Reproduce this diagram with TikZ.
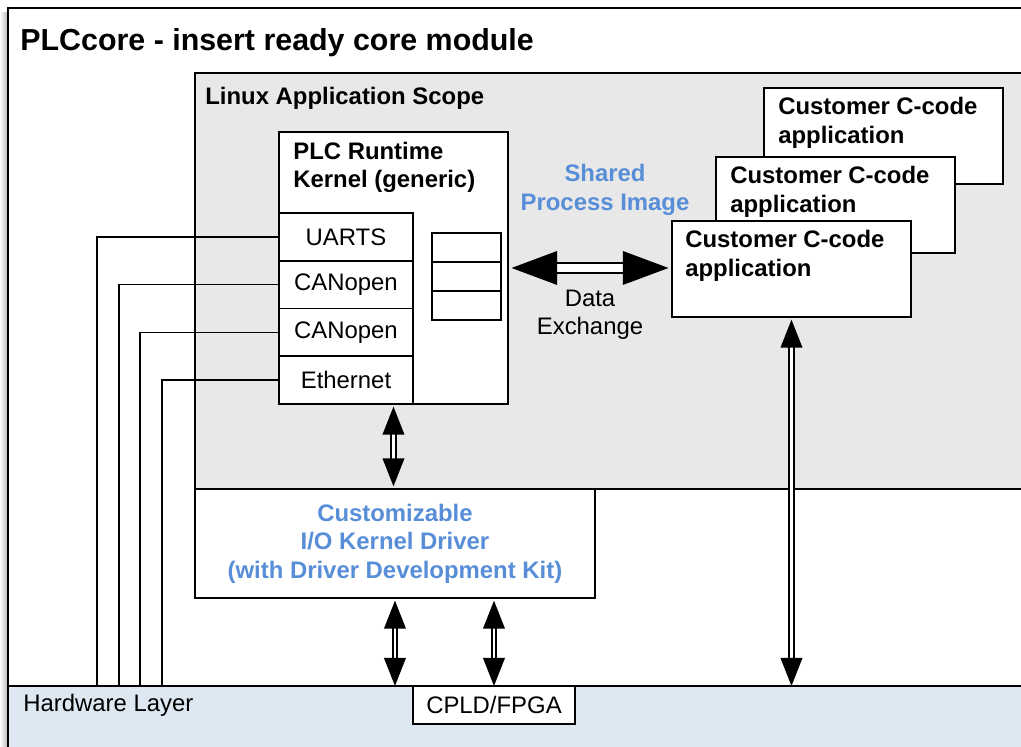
\documentclass[tikz,border=0pt]{standalone}
\usepackage{fontspec}
\setmainfont{Liberation Sans}
\usepackage{tikz}
\usetikzlibrary{shapes,arrows.meta}
\usetikzlibrary{positioning}
\definecolor{scopegray}{RGB}{232,232,232}
\definecolor{hwblue}{RGB}{222,232,242}
\definecolor{textblue}{RGB}{88,142,216}
\newcommand{\bodyfont}{\fontsize{13.6}{16.2}\selectfont}
\newcommand{\titlefont}{\fontsize{17.3}{20}\selectfont\bfseries}
\tikzstyle{box} = [rectangle, draw=black, line width=1.1pt, fill=white,
    inner sep=0pt, outer sep=0pt, font=\bodyfont]
\tikzstyle{port} = [box, minimum width=2.68cm, minimum height=0.955cm]
\tikzstyle{cell} = [box, minimum width=1.38cm, minimum height=0.58cm]
\tikzstyle{app} = [box, minimum width=4.78cm, minimum height=1.92cm, anchor=north west]
\tikzstyle{boldtext} = [inner sep=0pt, font=\bodyfont\bfseries, align=left, anchor=north west]
\tikzstyle{wire} = [line width=0.8pt]
\tikzstyle{arrow} = [line width=1.1pt, double=white, double distance=1.6pt,
    {Triangle[length=16pt,width=12.3pt]}-{Triangle[length=16pt,width=12.3pt]}]
\tikzstyle{bigarrow} = [line width=1.4pt, double=white, double distance=4.4pt,
    {Triangle[length=26pt,width=19pt]}-{Triangle[length=26pt,width=19pt]}]

\begin{document}
\begin{tikzpicture}[x=0.02cm, y=-0.02cm]
\useasboundingbox (0,0) rectangle (1021,747);
\clip (0,0) rectangle (1021,747);

% module frame
\shade [left color=white, right color=gray!60] (0,12) rectangle (8,760);
\draw [fill=white, line width=1.1pt] (8,8) rectangle (1040,760);
\node (title) [anchor=base west, inner sep=0pt, font=\titlefont] at (20,51)
    {PLCcore - insert ready core module};

% layers
\node (hw) [box, fill=hwblue, anchor=north west, minimum width=20.8cm, minimum height=1.6cm] at (8,686) {};
\node (hw-label) [anchor=base west, inner sep=0pt, font=\bodyfont] at (23,711) {Hardware Layer};
\node (scope) [box, fill=scopegray, anchor=north west, minimum width=17cm, minimum height=8.32cm] at (195,73) {};
\node (scope-label) [boldtext, anchor=base west] at (205,104) {Linux Application Scope};

\node (driver) [box, anchor=north west, minimum width=8cm, minimum height=2.18cm,
    font=\bodyfont\bfseries, text=textblue, align=center] at (195,489) {
    Customizable \\
    I/O Kernel Driver \\
    (with Driver Development Kit)
};

% runtime kernel
\node (kernel) [box, anchor=north west, minimum width=4.58cm, minimum height=5.44cm] at (279,132) {};
\node (kernel-label) [boldtext] at (293,141.5) {PLC Runtime \\ Kernel (generic)};
\node (uarts) [port, anchor=north west] at (279,213) {UARTS};
\node (canopen-a) [port, below=0pt of uarts] {CANopen};
\node (canopen-b) [port, below=0pt of canopen-a] {CANopen};
\node (ethernet) [port, below=0pt of canopen-b] {Ethernet};

\node (image-a) [cell, anchor=north west] at (432,233) {};
\node (image-b) [cell, below=0pt of image-a] {};
\node (image-c) [cell, below=0pt of image-b] {};

\node (shared) [font=\bodyfont\bfseries, text=textblue, align=center] at (605,190) {
    Shared \\
    Process Image
};

% customer applications
\node (app-c) [app] at (764,88) {};
\node (app-c-label) [boldtext] at (778,97) {Customer C-code \\ application};
\node (app-b) [app] at (716,157) {};
\node (app-b-label) [boldtext] at (730,166) {Customer C-code \\ application};
\node (app-a) [app] at (672,221) {};
\node (app-a-label) [boldtext] at (685,230) {Customer C-code \\ application};

\node (cpld) [box, anchor=north west, minimum width=3.24cm, minimum height=0.76cm] at (413,686) {CPLD/FPGA};

\draw [bigarrow, shorten <=2pt, shorten >=2pt] (kernel.east) -- (kernel.east -| app-a.west);
\node (data-label) [font=\bodyfont, align=center] at (590,315) {Data \\ Exchange};

\draw [arrow, shorten <=1.5pt, shorten >=1.5pt] (kernel.south) -- (kernel.south |- driver.north);
\draw [arrow, shorten <=1.5pt] (driver.south) -- (driver.south |- hw.north);
\draw [arrow, shorten <=1.5pt] (cpld.north |- driver.south) -- (cpld.north);
\draw [arrow, shorten <=1.5pt] (app-a.south) -- (app-a.south |- hw.north);

% field bus wires
\coordinate (wire-a) at (97,686);
\coordinate (wire-b) at (119,686);
\coordinate (wire-c) at (140,686);
\coordinate (wire-d) at (162,686);
\draw [wire] (uarts.west) -| (wire-a);
\draw [wire] (canopen-a.west) -| (wire-b);
\draw [wire] (canopen-b.west) -| (wire-c);
\draw [wire] (ethernet.west) -| (wire-d);
\end{tikzpicture}
\end{document}
